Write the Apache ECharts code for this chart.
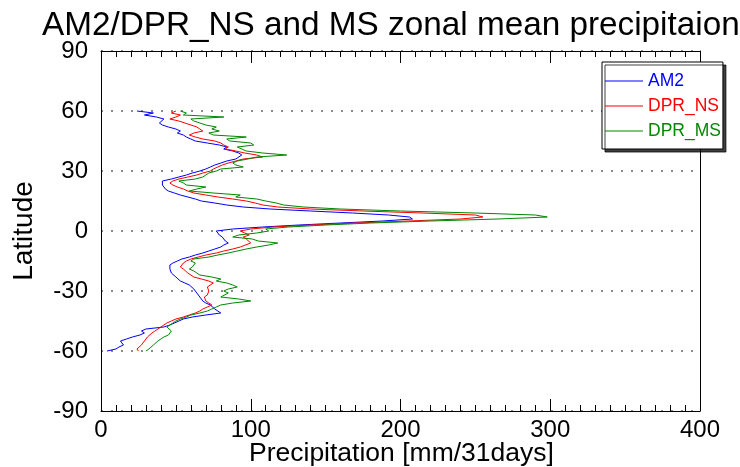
<!DOCTYPE html>
<html>
<head>
<meta charset="utf-8">
<script src="https://cdn.jsdelivr.net/npm/echarts@6/dist/echarts.min.js"></script>
<style>
html,body{margin:0;padding:0;background:#fff;}
#chart{width:740px;height:467px;}
</style>
</head>
<body>
<div id="chart"></div>
<script>
// Latitudes from 60N to 60S
var latitudes = [60,59,58,57,56,55,54,53,52,51,50,49,48,47,46,45,44,43,42,41,40,39,38,37,36,35,34,33,32,31,30,29,28,27,26,25,24,23,22,21,20,19,18,17,16,15,14,13,12,11,10,9,8,7,6,5,4,3,2,1,0,-1,-2,-3,-4,-5,-6,-7,-8,-9,-10,-11,-12,-13,-14,-15,-16,-17,-18,-19,-20,-21,-22,-23,-24,-25,-26,-27,-28,-29,-30,-31,-32,-33,-34,-35,-36,-37,-38,-39,-40,-41,-42,-43,-44,-45,-46,-47,-48,-49,-50,-51,-52,-53,-54,-55,-56,-57,-58,-59,-60];

var am2 = [24,35,29,37,42,43,39,41,45,50,53,51,55,57,60,63,71,79,84,82,88,92,94,93,90,84,80,76,73,70,66,61,57,52,47,41,40,41,42,43,45,49,53,58,63,67,76,84,95,113,140,168,192,206,208,188,160,132,108,88,77,76,79,81,82,83,85,82,80,76,72,68,63,59,54,51,48,46,45,46,46,47,48,50,51,53,56,59,60,62,63,64,65,66,67,68,70,73,74,76,78,80,70,61,55,52,49,46,42,30,27,29,26,21,17,13,14,15,12,10,4];

var dprNS = [50,47,53,50,46,52,56,60,64,66,68,62,59,63,68,76,80,82,85,83,90,96,104,108,95,90,85,81,78,75,73,68,64,58,52,48,46,48,51,55,58,62,70,78,88,97,103,108,118,140,175,215,250,255,240,205,170,140,115,100,93,96,99,95,97,96,100,99,93,88,82,77,70,65,60,57,55,54,53,55,56,58,60,62,67,72,75,74,71,70,72,73,71,69,68,70,72,74,71,68,66,63,59,55,50,47,44,42,40,38,36,34,33,31,30,29,28,27,26,24,25];

var dprMS = [53,57,55,82,60,62,66,70,77,74,79,72,75,97,84,86,100,102,91,94,97,108,124,104,98,91,88,90,95,80,77,72,70,68,63,52,55,57,70,64,59,75,93,90,104,110,117,122,135,160,200,250,290,298,265,220,180,150,125,110,112,104,92,88,101,105,118,112,104,97,91,85,78,72,62,60,63,64,61,59,62,64,66,74,80,77,84,88,91,85,82,85,86,80,92,100,88,80,77,74,71,66,60,57,53,50,48,46,44,45,47,48,45,42,40,38,37,35,34,32,30];

var seriesNames = ['AM2','DPR_NS','DPR_MS'];
var seriesColors = ['#0000ff','#ff0000','#008800'];
var seriesValues = [am2, dprNS, dprMS];
var xAxisTitle = 'Precipitation [mm/31days]';

var FONT = 'Liberation Sans, Arial, Helvetica, sans-serif';

function pairs(vals){
  var out = [];
  for (var i = 0; i < vals.length; i++) out.push([vals[i], latitudes[i]]);
  return out;
}

var chart = echarts.init(document.getElementById('chart'), null, {renderer:'canvas'});

var axisLineStyle = {color:'#000', width:1};

var option = {
  animation:false,
  backgroundColor:'#fff',
  title:[{
    text:'AM2/DPR_NS and MS zonal mean precipitaion',
    left:37, top:4,
    textStyle:{fontFamily:FONT, fontSize:33.3, fontWeight:'normal', color:'#000'}
  },{
    text:xAxisTitle,
    left:249, top:440, padding:0,
    textStyle:{fontFamily:FONT, fontSize:26.5, fontWeight:'normal', color:'#000', lineHeight:28}
  }],
  grid:{left:101, right:40, top:51, bottom:56, containLabel:false, outerBoundsMode:'none'},
  legend:{
    orient:'vertical',
    left:602, top:62,
    padding:[10,2,9,3],
    icon:'rect',
    itemWidth:38, itemHeight:1.2, itemGap:7,
    backgroundColor:'#fff',
    borderColor:'#000', borderWidth:1,
    shadowColor:'rgba(0,0,0,0.75)', shadowBlur:0, shadowOffsetX:3, shadowOffsetY:3,
    textStyle:{fontFamily:FONT, fontSize:17.5, lineHeight:17},
    data: seriesNames.map(function(n,i){ return {name:n, textStyle:{color:seriesColors[i]}}; })
  },
  xAxis:[{
    type:'value', min:0, max:400, interval:100, position:'bottom',
    axisLine:{show:true, onZero:false, lineStyle:axisLineStyle},
    axisTick:{show:true, inside:true, length:12, lineStyle:{color:'#000'}},
    minorTick:{show:true, splitNumber:10, length:6, lineStyle:{color:'#000'}},
    axisLabel:{fontFamily:FONT, fontSize:24, color:'#000', margin:7},
    splitLine:{show:false}
  },{
    type:'value', min:0, max:400, interval:100, position:'top',
    axisLine:{show:true, onZero:false, lineStyle:axisLineStyle},
    axisTick:{show:true, inside:true, length:12, lineStyle:{color:'#000'}},
    minorTick:{show:true, splitNumber:10, length:6, lineStyle:{color:'#000'}},
    axisLabel:{show:false},
    splitLine:{show:false}
  }],
  yAxis:[{
    type:'value', min:-90, max:90, interval:30, position:'left',
    name:'Latitude', nameLocation:'middle', nameGap:63, nameRotate:90,
    nameTextStyle:{fontFamily:FONT, fontSize:28, color:'#000'},
    axisLine:{show:true, onZero:false, lineStyle:axisLineStyle},
    axisTick:{show:false},
    axisLabel:{fontFamily:FONT, fontSize:24, color:'#000', margin:13},
    splitLine:{show:true, lineStyle:{color:'#666', width:1.5, type:[2,8]}}
  },{
    type:'value', min:-90, max:90, interval:30, position:'right',
    axisLine:{show:true, onZero:false, lineStyle:axisLineStyle},
    axisTick:{show:false},
    axisLabel:{show:false},
    splitLine:{show:false}
  }],
  series: seriesNames.map(function(n,i){
    return {
      name:n, type:'line', xAxisIndex:0, yAxisIndex:0,
      symbol:'none', smooth:false,
      lineStyle:{color:seriesColors[i], width:1},
      itemStyle:{color:seriesColors[i]},
      data: pairs(seriesValues[i])
    };
  })
};
chart.setOption(option);
</script>
</body>
</html>
